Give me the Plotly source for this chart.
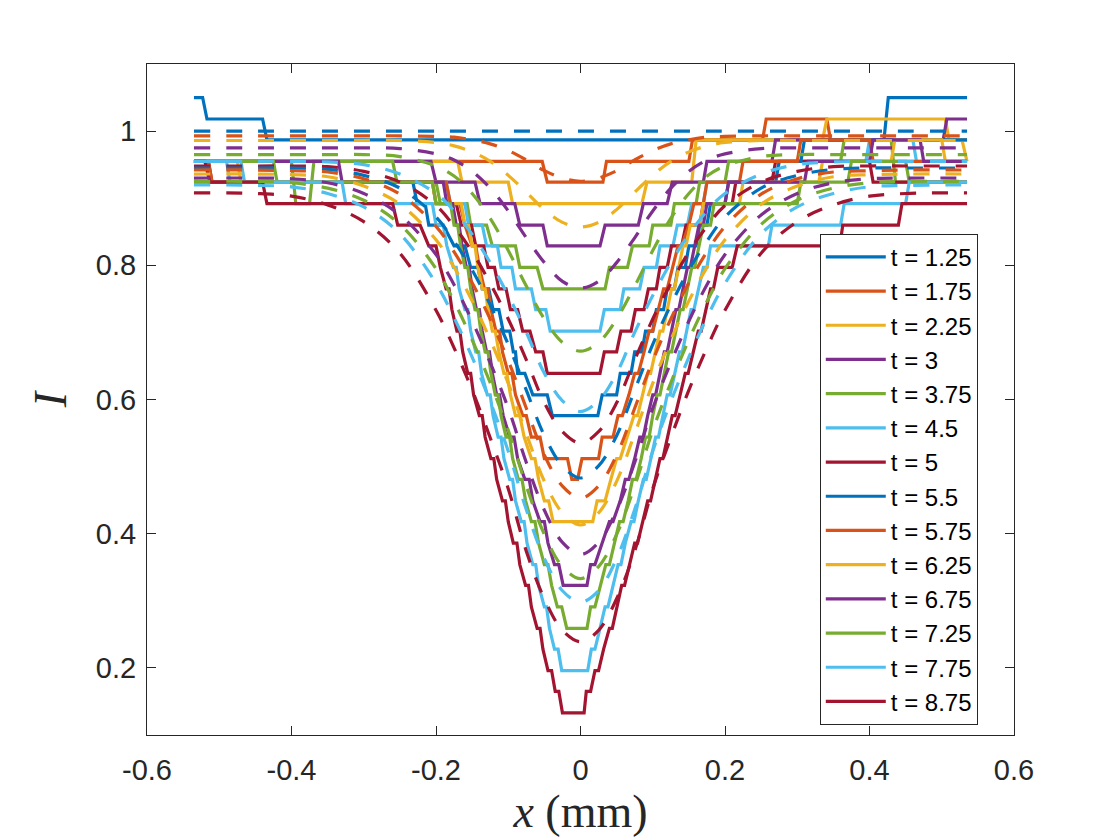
"""Measured (solid) vs. model (dashed) intensity profiles at several times."""
import plotly.graph_objects as go

# ---- legend labels -------------------------------------------------------
t_labels = ["t = 1.25", "t = 1.75", "t = 2.25", "t = 3", "t = 3.75", "t = 4.5", "t = 5",
            "t = 5.5", "t = 5.75", "t = 6.25", "t = 6.75", "t = 7.25", "t = 7.75", "t = 8.75"]

# ---- measured profiles (quantised, piecewise linear vertices) -------------
x_125 = [-0.535, -0.523, -0.517, -0.44, -0.434, 0.42, 0.426, 0.535]
y_125 = [1.050, 1.050, 1.018, 1.018, 0.987, 0.987, 1.050, 1.050]

x_175 = [-0.535, -0.053, -0.046, 0.031, 0.036, 0.15, 0.155, 0.252, 0.257, 0.341, 0.346, 0.535]
y_175 = [0.955, 0.955, 0.924, 0.924, 0.955, 0.955, 0.987, 0.987, 1.018, 1.018, 0.987, 0.987]

x_225 = [-0.535, -0.17, -0.164, -0.1, -0.094, 0.085, 0.092, 0.154, 0.16, 0.335, 0.341, 0.505,
         0.51, 0.528, 0.535]
y_225 = [0.955, 0.955, 0.924, 0.924, 0.892, 0.892, 0.924, 0.924, 0.987, 0.987, 1.018, 1.018,
         0.987, 0.987, 0.955]

x_300 = [-0.535, -0.207, -0.2, -0.146, -0.139, -0.091, -0.084, -0.052, -0.046, 0.027, 0.034,
         0.08, 0.087, 0.12, 0.127, 0.17, 0.175, 0.265, 0.27, 0.502, 0.507, 0.535]
y_300 = [0.955, 0.955, 0.924, 0.924, 0.892, 0.892, 0.860, 0.860, 0.829, 0.829, 0.860,
         0.860, 0.892, 0.892, 0.924, 0.924, 0.955, 0.955, 0.987, 0.987, 1.018, 1.018]

x_375 = [-0.535, -0.4, -0.394, -0.375, -0.369, -0.26, -0.254, -0.2, -0.194, -0.157, -0.152,
         -0.13, -0.122, -0.09, -0.084, -0.06, -0.052, 0.034, 0.04, 0.065, 0.072, 0.095, 0.1,
         0.125, 0.13, 0.16, 0.165, 0.2, 0.205, 0.36, 0.365, 0.43, 0.436, 0.535]
y_375 = [0.955, 0.955, 0.892, 0.892, 0.955, 0.955, 0.924, 0.924, 0.892, 0.892, 0.860,
         0.860, 0.829, 0.829, 0.797, 0.797, 0.765, 0.765, 0.797, 0.797, 0.829, 0.829, 0.860,
         0.860, 0.892, 0.892, 0.924, 0.924, 0.955, 0.955, 0.987, 0.987, 0.924, 0.924]

x_450 = [-0.535, -0.47, -0.465, -0.186, -0.18, -0.16, -0.155, -0.136, -0.13, -0.115, -0.11,
         -0.095, -0.09, -0.068, -0.062, -0.048, -0.042, 0.027, 0.033, 0.055, 0.06, 0.082,
         0.088, 0.105, 0.11, 0.128, 0.134, 0.148, 0.154, 0.17, 0.175, 0.27, 0.275, 0.395,
         0.4, 0.46, 0.465, 0.535]
y_450 = [0.955, 0.955, 0.924, 0.924, 0.892, 0.892, 0.860, 0.860, 0.829, 0.829, 0.797,
         0.797, 0.765, 0.765, 0.734, 0.734, 0.702, 0.702, 0.734, 0.734, 0.765, 0.765,
         0.797, 0.797, 0.829, 0.829, 0.860, 0.860, 0.892, 0.892, 0.924, 0.924, 0.955, 0.955,
         0.987, 0.987, 0.955, 0.955]

x_500 = [-0.535, -0.515, -0.51, -0.205, -0.2, -0.172, -0.165, -0.151, -0.145, -0.134, -0.128,
         -0.119, -0.113, -0.103, -0.097, -0.087, -0.08, -0.07, -0.062, -0.052, -0.046, 0.027,
         0.033, 0.05, 0.056, 0.07, 0.076, 0.088, 0.094, 0.105, 0.11, 0.12, 0.126, 0.14,
         0.146, 0.165, 0.17, 0.21, 0.215, 0.265, 0.27, 0.4, 0.405, 0.535]
y_500 = [0.955, 0.955, 0.924, 0.924, 0.892, 0.892, 0.860, 0.860, 0.829, 0.829, 0.797,
         0.797, 0.765, 0.765, 0.734, 0.734, 0.702, 0.702, 0.671, 0.671, 0.639, 0.639,
         0.671, 0.671, 0.702, 0.702, 0.734, 0.734, 0.765, 0.765, 0.797, 0.797, 0.829, 0.829,
         0.860, 0.860, 0.892, 0.892, 0.924, 0.924, 0.955, 0.955, 0.924, 0.924]

x_550 = [-0.535, -0.232, -0.226, -0.215, -0.21, -0.19, -0.175, -0.16, -0.152, -0.142, -0.136,
         -0.127, -0.121, -0.113, -0.107, -0.098, -0.093, -0.09, -0.087, -0.077, -0.066,
         -0.046, -0.039, 0.024, 0.03, 0.05, 0.055, 0.07, 0.075, 0.085, 0.09, 0.1, 0.105,
         0.115, 0.12, 0.13, 0.135, 0.145, 0.15, 0.16, 0.165, 0.175, 0.18, 0.2, 0.205, 0.27,
         0.275, 0.305, 0.31, 0.535]
y_550 = [0.924, 0.924, 0.892, 0.892, 0.860, 0.860, 0.829, 0.829, 0.797, 0.797, 0.765,
         0.765, 0.734, 0.734, 0.702, 0.702, 0.671, 0.671, 0.639, 0.639, 0.607,
         0.607, 0.576, 0.576, 0.607, 0.607, 0.639, 0.639, 0.671, 0.671, 0.702, 0.702, 0.734,
         0.734, 0.765, 0.765, 0.797, 0.797, 0.829, 0.829, 0.860, 0.860, 0.892, 0.892, 0.924,
         0.924, 0.955, 0.955, 0.987, 0.987]

x_575 = [-0.535, -0.515, -0.51, -0.186, -0.18, -0.167, -0.16, -0.15, -0.145, -0.14, -0.133,
         -0.128, -0.124, -0.117, -0.112, -0.108, -0.1, -0.095, -0.09, -0.08, -0.075, -0.068,
         -0.056, -0.05, -0.018, -0.012, -0.004, 0.002, 0.025, 0.03, 0.045, 0.052, 0.058,
         0.067, 0.075, 0.08, 0.088, 0.095, 0.1, 0.108, 0.115, 0.12, 0.128, 0.135, 0.14,
         0.15, 0.157, 0.17, 0.175, 0.22, 0.225, 0.3, 0.305, 0.4, 0.405, 0.535]
y_575 = [0.955, 0.955, 0.924, 0.924, 0.892, 0.892, 0.860, 0.829, 0.829, 0.797, 0.765,
         0.765, 0.734, 0.702, 0.702, 0.671, 0.639, 0.639, 0.607, 0.576, 0.576, 0.544,
         0.544, 0.512, 0.512, 0.481, 0.481, 0.512, 0.512, 0.544, 0.544, 0.576, 0.576,
         0.607, 0.639, 0.639, 0.671, 0.702, 0.702, 0.734, 0.765, 0.765, 0.797, 0.829, 0.829,
         0.860, 0.892, 0.892, 0.924, 0.924, 0.955, 0.955, 0.987, 0.987, 0.955, 0.955]

x_625 = [-0.535, -0.475, -0.47, -0.205, -0.2, -0.165, -0.16, -0.155, -0.15, -0.146, -0.142,
         -0.136, -0.132, -0.128, -0.122, -0.118, -0.113, -0.106, -0.102, -0.097, -0.09,
         -0.084, -0.078, -0.068, -0.063, -0.058, -0.05, -0.044, -0.038, 0.017, 0.023, 0.034,
         0.042, 0.05, 0.055, 0.064, 0.074, 0.079, 0.086, 0.093, 0.097, 0.104, 0.11, 0.114,
         0.12, 0.126, 0.13, 0.136, 0.142, 0.146, 0.152, 0.165, 0.17, 0.22, 0.225, 0.33,
         0.335, 0.43, 0.435, 0.5, 0.505, 0.535]
y_625 = [0.955, 0.955, 0.924, 0.924, 0.892, 0.892, 0.860, 0.860, 0.829, 0.829, 0.797,
         0.765, 0.765, 0.734, 0.702, 0.702, 0.671, 0.639, 0.639, 0.607, 0.576,
         0.576, 0.544, 0.512, 0.512, 0.481, 0.449, 0.449, 0.418, 0.418, 0.449, 0.449,
         0.481, 0.512, 0.512, 0.544, 0.576, 0.576, 0.607, 0.639, 0.639, 0.671, 0.702, 0.702,
         0.734, 0.765, 0.765, 0.797, 0.829, 0.829, 0.860, 0.860, 0.892, 0.892, 0.924, 0.924,
         0.955, 0.955, 0.987, 0.987, 0.955, 0.955]

x_675 = [-0.535, -0.335, -0.33, -0.19, -0.185, -0.177, -0.172, -0.168, -0.164, -0.158, -0.154,
         -0.15, -0.144, -0.14, -0.136, -0.13, -0.126, -0.122, -0.116, -0.112, -0.107, -0.098,
         -0.092, -0.087, -0.077, -0.071, -0.066, -0.056, -0.05, -0.045, -0.036, -0.03,
         -0.024, 0.009, 0.014, 0.02, 0.03, 0.04, 0.045, 0.055, 0.062, 0.067, 0.075, 0.082,
         0.087, 0.093, 0.1, 0.104, 0.11, 0.116, 0.12, 0.126, 0.132, 0.136, 0.142, 0.148,
         0.152, 0.158, 0.164, 0.17, 0.175, 0.2, 0.205, 0.31, 0.315, 0.4, 0.405, 0.47, 0.475,
         0.535]
y_675 = [0.955, 0.955, 0.924, 0.924, 0.892, 0.892, 0.860, 0.860, 0.829, 0.797, 0.797,
         0.765, 0.734, 0.734, 0.702, 0.671, 0.671, 0.639, 0.607, 0.607, 0.576, 0.544,
         0.544, 0.512, 0.481, 0.481, 0.449, 0.418, 0.418, 0.386, 0.354, 0.354,
         0.323, 0.323, 0.354, 0.354, 0.386, 0.418, 0.418, 0.449, 0.481, 0.481, 0.512, 0.544,
         0.544, 0.576, 0.607, 0.607, 0.639, 0.671, 0.671, 0.702, 0.734, 0.734, 0.765, 0.797,
         0.797, 0.829, 0.860, 0.860, 0.892, 0.892, 0.924, 0.924, 0.955, 0.955, 0.987, 0.987,
         0.955, 0.955]

x_725 = [-0.535, -0.425, -0.42, -0.205, -0.2, -0.18, -0.175, -0.17, -0.166, -0.16, -0.156,
         -0.152, -0.146, -0.142, -0.138, -0.132, -0.128, -0.124, -0.118, -0.114, -0.11,
         -0.103, -0.098, -0.094, -0.086, -0.081, -0.076, -0.068, -0.063, -0.058, -0.05,
         -0.045, -0.04, -0.032, -0.026, -0.019, 0.009, 0.014, 0.02, 0.028, 0.035, 0.04,
         0.047, 0.054, 0.059, 0.066, 0.072, 0.077, 0.084, 0.09, 0.095, 0.1, 0.106, 0.11,
         0.116, 0.122, 0.126, 0.132, 0.138, 0.142, 0.148, 0.154, 0.158, 0.164, 0.17, 0.18,
         0.185, 0.3, 0.305, 0.37, 0.375, 0.45, 0.455, 0.535]
y_725 = [0.955, 0.955, 0.924, 0.924, 0.892, 0.892, 0.860, 0.860, 0.829, 0.797, 0.797,
         0.765, 0.734, 0.734, 0.702, 0.671, 0.671, 0.639, 0.607, 0.607, 0.576,
         0.544, 0.544, 0.512, 0.481, 0.481, 0.449, 0.418, 0.418, 0.386, 0.354,
         0.354, 0.323, 0.291, 0.291, 0.259, 0.259, 0.291, 0.291, 0.323, 0.354, 0.354,
         0.386, 0.418, 0.418, 0.449, 0.481, 0.481, 0.512, 0.544, 0.544, 0.576, 0.607, 0.607,
         0.639, 0.671, 0.671, 0.702, 0.734, 0.734, 0.765, 0.797, 0.797, 0.829, 0.860, 0.860,
         0.892, 0.892, 0.924, 0.924, 0.955, 0.955, 0.924, 0.924]

x_775 = [-0.535, -0.49, -0.485, -0.33, -0.325, -0.205, -0.2, -0.19, -0.185, -0.176, -0.172,
         -0.168, -0.16, -0.156, -0.152, -0.145, -0.141, -0.137, -0.129, -0.125, -0.121,
         -0.114, -0.11, -0.106, -0.098, -0.094, -0.09, -0.082, -0.078, -0.074, -0.066,
         -0.062, -0.058, -0.05, -0.047, -0.043, -0.036, -0.031, -0.026, 0.01, 0.015, 0.02,
         0.027, 0.034, 0.038, 0.045, 0.052, 0.056, 0.062, 0.07, 0.074, 0.08, 0.087, 0.091,
         0.097, 0.104, 0.108, 0.114, 0.12, 0.124, 0.13, 0.137, 0.141, 0.147, 0.153, 0.157,
         0.163, 0.17, 0.175, 0.18, 0.26, 0.265, 0.36, 0.365, 0.45, 0.455, 0.535]
y_775 = [0.955, 0.955, 0.924, 0.924, 0.892, 0.892, 0.860, 0.860, 0.829, 0.797, 0.797,
         0.765, 0.734, 0.734, 0.702, 0.671, 0.671, 0.639, 0.607, 0.607, 0.576,
         0.544, 0.544, 0.512, 0.481, 0.481, 0.449, 0.418, 0.418, 0.386, 0.354,
         0.354, 0.323, 0.291, 0.291, 0.259, 0.228, 0.228, 0.196, 0.196, 0.228, 0.228,
         0.259, 0.291, 0.291, 0.323, 0.354, 0.354, 0.386, 0.418, 0.418, 0.449, 0.481, 0.481,
         0.512, 0.544, 0.544, 0.576, 0.607, 0.607, 0.639, 0.671, 0.671, 0.702, 0.734, 0.734,
         0.765, 0.797, 0.797, 0.829, 0.829, 0.860, 0.860, 0.892, 0.892, 0.924, 0.924]

x_875 = [-0.535, -0.52, -0.513, -0.44, -0.434, -0.26, -0.253, -0.222, -0.21, -0.2, -0.194,
         -0.186, -0.182, -0.178, -0.171, -0.167, -0.163, -0.156, -0.152, -0.148, -0.14,
         -0.136, -0.132, -0.124, -0.12, -0.116, -0.108, -0.104, -0.1, -0.093, -0.088,
         -0.084, -0.076, -0.072, -0.068, -0.06, -0.056, -0.052, -0.045, -0.04, -0.035,
         -0.03, -0.025, 0.005, 0.008, 0.014, 0.02, 0.025, 0.032, 0.04, 0.044, 0.05, 0.057,
         0.061, 0.068, 0.075, 0.079, 0.086, 0.093, 0.097, 0.104, 0.11, 0.114, 0.12, 0.127,
         0.131, 0.138, 0.145, 0.149, 0.156, 0.163, 0.167, 0.174, 0.18, 0.184, 0.19, 0.21,
         0.217, 0.359, 0.363, 0.44, 0.445, 0.535]
y_875 = [0.955, 0.955, 0.924, 0.924, 0.892, 0.892, 0.860, 0.860, 0.829, 0.829, 0.797,
         0.765, 0.765, 0.734, 0.702, 0.702, 0.671, 0.639, 0.639, 0.607, 0.576,
         0.576, 0.544, 0.512, 0.512, 0.481, 0.449, 0.449, 0.418, 0.386, 0.386,
         0.354, 0.323, 0.323, 0.291, 0.259, 0.259, 0.228, 0.196, 0.196, 0.165,
         0.165, 0.133, 0.133, 0.165, 0.165, 0.196, 0.196, 0.228, 0.259, 0.259, 0.291, 0.323,
         0.323, 0.354, 0.386, 0.386, 0.418, 0.449, 0.449, 0.481, 0.512, 0.512, 0.544, 0.576,
         0.576, 0.607, 0.639, 0.639, 0.671, 0.702, 0.702, 0.734, 0.765, 0.765, 0.797, 0.797,
         0.829, 0.829, 0.860, 0.860, 0.892, 0.892]

# ---- model profiles (smooth, dashed) on a shared x grid -------------------
x_model = [-0.535, -0.45, -0.4, -0.35, -0.3, -0.25, -0.2, -0.175, -0.15, -0.125, -0.1, -0.075,
           -0.05, -0.025, 0, 0.025, 0.05, 0.075, 0.1, 0.125, 0.15, 0.175, 0.2, 0.25, 0.3,
           0.35, 0.4, 0.45, 0.535]

m_125 = [1.000, 1.000, 1.000, 1.000, 1.000, 1.000, 1.000, 1.000, 1.000, 1.000, 1.000, 1.000,
         1.000, 1.000, 1.000, 1.000, 1.000, 1.000, 1.000, 1.000, 1.000, 1.000, 1.000, 1.000,
         1.000, 1.000, 1.000, 1.000, 1.000]
m_175 = [0.993, 0.993, 0.993, 0.993, 0.993, 0.993, 0.992, 0.991, 0.987, 0.981, 0.971, 0.957,
         0.941, 0.930, 0.925, 0.930, 0.941, 0.957, 0.971, 0.981, 0.987, 0.991, 0.992, 0.993,
         0.993, 0.993, 0.993, 0.993, 0.993]
m_225 = [0.986, 0.986, 0.986, 0.986, 0.986, 0.986, 0.983, 0.978, 0.969, 0.955, 0.934, 0.909,
         0.883, 0.864, 0.857, 0.864, 0.883, 0.909, 0.934, 0.955, 0.969, 0.978, 0.983, 0.986,
         0.986, 0.986, 0.986, 0.986, 0.986]
m_300 = [0.975, 0.975, 0.975, 0.975, 0.975, 0.974, 0.966, 0.957, 0.940, 0.915, 0.881, 0.841,
         0.804, 0.776, 0.766, 0.776, 0.804, 0.841, 0.881, 0.915, 0.940, 0.957, 0.966, 0.974,
         0.975, 0.975, 0.975, 0.975, 0.975]
m_375 = [0.965, 0.965, 0.965, 0.965, 0.965, 0.962, 0.948, 0.933, 0.907, 0.870, 0.822, 0.769,
         0.720, 0.685, 0.672, 0.685, 0.720, 0.769, 0.822, 0.870, 0.907, 0.933, 0.948, 0.962,
         0.965, 0.965, 0.965, 0.965, 0.965]
m_450 = [0.955, 0.955, 0.955, 0.954, 0.950, 0.936, 0.907, 0.881, 0.846, 0.804, 0.755, 0.700,
         0.639, 0.598, 0.582, 0.598, 0.639, 0.700, 0.755, 0.804, 0.846, 0.881, 0.907, 0.936,
         0.950, 0.954, 0.955, 0.955, 0.955]
m_500 = [0.948, 0.948, 0.948, 0.947, 0.940, 0.924, 0.889, 0.858, 0.820, 0.773, 0.720, 0.659,
         0.595, 0.552, 0.535, 0.552, 0.595, 0.659, 0.720, 0.773, 0.820, 0.858, 0.889, 0.924,
         0.940, 0.947, 0.948, 0.948, 0.948]
m_550 = [0.945, 0.945, 0.945, 0.943, 0.934, 0.915, 0.872, 0.836, 0.793, 0.741, 0.682, 0.614,
         0.546, 0.501, 0.483, 0.501, 0.546, 0.614, 0.682, 0.741, 0.793, 0.836, 0.872, 0.915,
         0.934, 0.943, 0.945, 0.945, 0.945]
m_575 = [0.942, 0.942, 0.941, 0.939, 0.929, 0.906, 0.858, 0.820, 0.774, 0.720, 0.658, 0.587,
         0.517, 0.471, 0.453, 0.471, 0.517, 0.587, 0.658, 0.720, 0.774, 0.820, 0.858, 0.906,
         0.929, 0.939, 0.941, 0.942, 0.942]
m_625 = [0.936, 0.936, 0.935, 0.932, 0.918, 0.891, 0.838, 0.797, 0.747, 0.689, 0.624, 0.549,
         0.478, 0.431, 0.413, 0.431, 0.478, 0.549, 0.624, 0.689, 0.747, 0.797, 0.838, 0.891,
         0.918, 0.932, 0.935, 0.936, 0.936]
m_675 = [0.930, 0.930, 0.929, 0.923, 0.907, 0.875, 0.816, 0.771, 0.717, 0.655, 0.587, 0.506,
         0.435, 0.387, 0.369, 0.387, 0.435, 0.506, 0.587, 0.655, 0.717, 0.771, 0.816, 0.875,
         0.907, 0.923, 0.929, 0.930, 0.930]
m_725 = [0.925, 0.925, 0.923, 0.915, 0.897, 0.861, 0.795, 0.746, 0.689, 0.625, 0.554, 0.471,
         0.399, 0.351, 0.333, 0.351, 0.399, 0.471, 0.554, 0.625, 0.689, 0.746, 0.795, 0.861,
         0.897, 0.915, 0.923, 0.925, 0.925]
m_775 = [0.920, 0.919, 0.917, 0.907, 0.887, 0.847, 0.773, 0.722, 0.663, 0.597, 0.523, 0.436,
         0.363, 0.315, 0.298, 0.315, 0.363, 0.436, 0.523, 0.597, 0.663, 0.722, 0.773, 0.847,
         0.887, 0.907, 0.917, 0.919, 0.920]
m_875 = [0.908, 0.907, 0.903, 0.890, 0.865, 0.818, 0.733, 0.677, 0.614, 0.543, 0.467, 0.374,
         0.303, 0.256, 0.239, 0.256, 0.303, 0.374, 0.467, 0.543, 0.614, 0.677, 0.733, 0.818,
         0.865, 0.890, 0.903, 0.907, 0.908]

# MATLAB default colour order, cycled over the 14 times
line_colors = ["#0072BD", "#D95319", "#EDB120", "#7E2F8E", "#77AC30", "#4DBEEE", "#A2142F"] * 2

measured = [(x_125, y_125), (x_175, y_175), (x_225, y_225), (x_300, y_300), (x_375, y_375),
            (x_450, y_450), (x_500, y_500), (x_550, y_550), (x_575, y_575), (x_625, y_625),
            (x_675, y_675), (x_725, y_725), (x_775, y_775), (x_875, y_875)]
model = [m_125, m_175, m_225, m_300, m_375, m_450, m_500, m_550, m_575, m_625, m_675, m_725,
         m_775, m_875]

TICK_FONT = dict(family="Liberation Sans, Arial, sans-serif", size=29, color="#262626")
TITLE_FONT = dict(family="Liberation Serif, Times New Roman, serif", size=46, color="#262626")


def build_figure() -> go.Figure:
    """Solid measured profiles first, dashed model curves drawn on top."""
    fig = go.Figure()

    for label, color, (xs, ys) in zip(t_labels, line_colors, measured):
        assert len(xs) == len(ys), label
        fig.add_trace(go.Scatter(
            x=xs, y=ys, mode="lines", name=label,
            line=dict(color=color, width=3.2),
        ))

    for label, color, ys in zip(t_labels, line_colors, model):
        assert len(ys) == len(x_model), label
        fig.add_trace(go.Scatter(
            x=x_model, y=ys, mode="lines", showlegend=False,
            line=dict(color=color, width=3.2, dash="16px,16px", shape="spline", smoothing=1.0),
        ))

    axis_common = dict(
        showgrid=False, zeroline=False, showline=True, linecolor="#262626", linewidth=1,
        mirror="ticks", ticks="inside", ticklen=9, tickwidth=1, tickcolor="#262626",
        tickfont=TICK_FONT,
    )
    fig.update_xaxes(
        range=[-0.6, 0.6],
        tickvals=[-0.6, -0.4, -0.2, 0, 0.2, 0.4, 0.6],
        ticktext=["-0.6", "-0.4", "-0.2", "0", "0.2", "0.4", "0.6"],
        ticklabelstandoff=9,
        title=dict(text="<i>x</i> (mm)", font=TITLE_FONT, standoff=8),
        **axis_common,
    )
    fig.update_yaxes(
        range=[0.1, 1.1],
        tickvals=[0.2, 0.4, 0.6, 0.8, 1.0],
        ticktext=["0.2", "0.4", "0.6", "0.8", "1"],
        ticklabelstandoff=4,
        title=dict(text="<i>I</i>", font=TITLE_FONT, standoff=14),
        **axis_common,
    )

    # page body adds an 8 px offset, so margins are trimmed to land the frame
    # where the original axes sit
    fig.update_layout(
        width=1120, height=840,
        margin=dict(l=139, r=114, t=56, b=113),
        paper_bgcolor="white", plot_bgcolor="white",
        legend=dict(
            x=0.776, y=0.747, xanchor="left", yanchor="top",
            bgcolor="white", bordercolor="#262626", borderwidth=1,
            font=dict(family="Liberation Sans, Arial, sans-serif", size=24, color="black"),
            itemwidth=60, tracegroupgap=0,
        ),
        showlegend=True,
    )
    return fig


fig = build_figure()
fig.write_html("out.html")
